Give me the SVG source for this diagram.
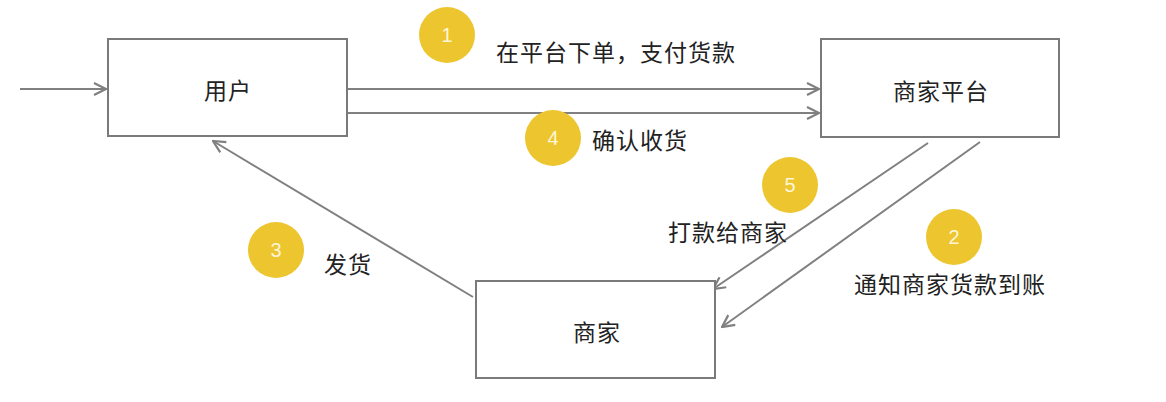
<svg xmlns="http://www.w3.org/2000/svg" width="1166" height="402" viewBox="0 0 1166 402">
<style>
.box{fill:#fff;stroke:#7a7a7a;stroke-width:2}
.lbl{font-family:"Microsoft YaHei","Noto Sans CJK SC",sans-serif;font-size:23px;letter-spacing:1px;fill:#222;dominant-baseline:central}
.ctr{text-anchor:middle}
.badge{fill:#EDC52F}
.num{font-family:"Liberation Sans","Noto Sans",sans-serif;font-size:20px;fill:#fff6d8;text-anchor:middle;dominant-baseline:central}
.conn{stroke:#808080;stroke-width:2;fill:none;marker-end:url(#ah)}
</style>
<defs>
<marker id="ah" viewBox="0 0 14 14" refX="13" refY="7" markerWidth="14" markerHeight="14" markerUnits="userSpaceOnUse" orient="auto">
<path d="M1,1 L13,7 L1,13" fill="none" stroke="#808080" stroke-width="2.2"/>
</marker>
</defs>
<rect width="1166" height="402" fill="#fff"/>
<g id="connectors">
<line class="conn" x1="20" y1="89" x2="106" y2="89"/>
<line class="conn" x1="345" y1="89" x2="819" y2="89"/>
<line class="conn" x1="345" y1="113" x2="819" y2="113"/>
<line class="conn" x1="473" y1="297" x2="213" y2="141"/>
<line class="conn" x1="928" y1="143" x2="713" y2="289"/>
<line class="conn" x1="980" y1="142" x2="722" y2="327"/>
</g>
<g id="user">
<rect class="box" x="108" y="39" width="239" height="97"/>
<text class="lbl ctr" x="228" y="89">用户</text>
</g>
<g id="platform">
<rect class="box" x="821" y="39" width="238" height="98"/>
<text class="lbl ctr" x="941" y="90">商家平台</text>
</g>
<g id="merchant">
<rect class="box" x="476" y="281" width="239" height="97"/>
<text class="lbl ctr" x="597" y="331">商家</text>
</g>
<g id="step1">
<circle class="badge" cx="447" cy="35" r="28"/>
<text class="num" x="447" y="35">1</text>
<text class="lbl" x="496" y="51">在平台下单，支付货款</text>
</g>
<g id="step2">
<circle class="badge" cx="954" cy="237" r="28"/>
<text class="num" x="954" y="237">2</text>
<text class="lbl" x="854" y="283">通知商家货款到账</text>
</g>
<g id="step3">
<circle class="badge" cx="276" cy="250" r="28"/>
<text class="num" x="276" y="250">3</text>
<text class="lbl" x="324" y="263">发货</text>
</g>
<g id="step4">
<circle class="badge" cx="553" cy="138" r="28"/>
<text class="num" x="553" y="138">4</text>
<text class="lbl" x="592" y="139">确认收货</text>
</g>
<g id="step5">
<circle class="badge" cx="790" cy="185" r="28"/>
<text class="num" x="790" y="185">5</text>
<text class="lbl" x="668" y="231">打款给商家</text>
</g>
</svg>
